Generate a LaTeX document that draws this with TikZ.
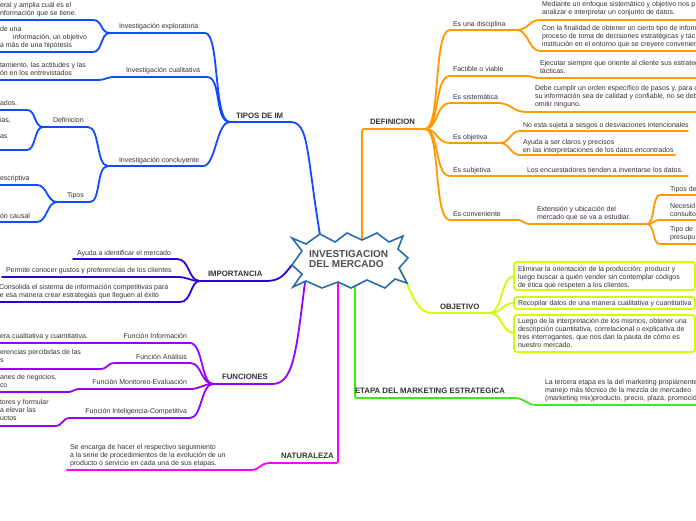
\documentclass[tikz,border=0pt]{standalone}
\usepackage{fontspec}
\setmainfont{Liberation Sans}
\definecolor{tgray}{RGB}{51,51,51}
\definecolor{cgray}{RGB}{77,77,77}
\definecolor{cTip}{RGB}{16,76,255}
\definecolor{cImp}{RGB}{45,0,225}
\definecolor{cFun}{RGB}{150,0,255}
\definecolor{cNat}{RGB}{255,0,255}
\definecolor{cEta}{RGB}{60,235,20}
\definecolor{cObj}{RGB}{205,255,0}
\definecolor{cDef}{RGB}{255,153,0}
\definecolor{cStar}{RGB}{40,110,175}
\begin{document}
\begin{tikzpicture}[x=1pt,y=-1pt,
  conn/.style={line width=1.8pt, line cap=round, line join=round},
  txt/.style={anchor=north west, inner sep=0pt, outer sep=0pt, align=left, yshift=3.4pt,
    font=\fontsize{7}{8}\selectfont, text=tgray, execute at begin node=\strut},
  txtr/.style={txt, anchor=north east, align=right},
  lbl/.style={txt, yshift=0.1pt, font=\fontsize{7.8}{9}\selectfont\bfseries},
  objbox/.style={draw=cObj, line width=1.8pt, rounded corners=3pt, fill=white}]
\useasboundingbox (0,0) rectangle (696,520);
\clip (0,0) rectangle (696,520);
\fill[white] (0,0) rectangle (696,520);

% ---------- hub coordinates ----------
\coordinate (sTip) at (320,235);
\coordinate (sImp) at (292,265);
\coordinate (sFun) at (305,282);
\coordinate (sNat) at (338,283);
\coordinate (sEta) at (355,285);
\coordinate (sObj) at (400,269);
\coordinate (sDef) at (362,240);

% ---------- TIPOS DE IM ----------
\coordinate (tipR) at (290,122); \coordinate (tipL) at (230,122);
\draw[conn,cTip] (sTip) .. controls (306,150) and (309,122) .. (tipR) -- (tipL);
\coordinate (expR) at (205,33); \coordinate (expL) at (110,33);
\coordinate (cuaR) at (207,77); \coordinate (cuaL) at (115,77);
\coordinate (conR) at (203,166); \coordinate (conL) at (108,166);
\draw[conn,cTip] (tipL) .. controls (213,122) and (220,33) .. (expR) -- (expL);
\draw[conn,cTip] (tipL) .. controls (214,122) and (222,77) .. (cuaR) -- (cuaL);
\draw[conn,cTip] (tipL) .. controls (216,122) and (216,166) .. (conR) -- (conL);
\coordinate (e1) at (-2,20); \coordinate (e2) at (-2,52);
\draw[conn,cTip] (expL) .. controls (100,33) and (103,20) .. (93,20) -- (e1);
\draw[conn,cTip] (expL) .. controls (100,33) and (103,52) .. (93,52) -- (e2);
\coordinate (c1) at (-2,80);
\draw[conn,cTip] (cuaL) .. controls (105,77) and (107,80) .. (97,80) -- (c1);
\coordinate (defR) at (88,127); \coordinate (defL) at (43,127);
\coordinate (tpR) at (90,202); \coordinate (tpL) at (57,202);
\draw[conn,cTip] (conL) .. controls (96,166) and (100,127) .. (defR) -- (defL);
\draw[conn,cTip] (conL) .. controls (96,166) and (101,202) .. (tpR) -- (tpL);
\coordinate (d1) at (-2,110); \coordinate (d2) at (-2,150);
\draw[conn,cTip] (defL) .. controls (34,127) and (36,110) .. (27,110) -- (d1);
\draw[conn,cTip] (defL) .. controls (34,127) and (36,150) .. (27,150) -- (d2);
\coordinate (p1) at (-2,185); \coordinate (p2) at (-2,222);
\draw[conn,cTip] (tpL) .. controls (47,202) and (47,185) .. (37,185) -- (p1);
\draw[conn,cTip] (tpL) .. controls (47,202) and (47,222) .. (37,222) -- (p2);

% ---------- IMPORTANCIA ----------
\coordinate (impL) at (200,281);
\draw[conn,cImp] (sImp) .. controls (283,276) and (280,281) .. (265,281) -- (impL);
\coordinate (i1) at (73,259); \coordinate (i2) at (2,277); \coordinate (i3) at (-2,302);
\draw[conn,cImp] (impL) .. controls (188,281) and (190,259) .. (177,259) -- (i1);
\draw[conn,cImp] (impL) .. controls (189,281) and (189,277) .. (177,277) -- (i2);
\draw[conn,cImp] (impL) .. controls (190,281) and (192,302) .. (180,302) -- (i3);

% ---------- FUNCIONES ----------
\coordinate (funL) at (213,384);
\draw[conn,cFun] (sFun) .. controls (296,355) and (293,384) .. (272,384) -- (funL);
\coordinate (f1) at (-2,343); \coordinate (f2) at (-2,369);
\coordinate (f3) at (-2,392); \coordinate (f4) at (-2,426);
\draw[conn,cFun] (funL) .. controls (201,384) and (203,343) .. (190,343) -- (f1);
\draw[conn,cFun] (funL) .. controls (201,384) and (202,363) .. (190,363) -- (115,363)
  .. controls (107,363) and (108,369) .. (100,369) -- (f2);
\draw[conn,cFun] (funL) .. controls (202,384) and (201,389) .. (190,389) -- (80,389)
  .. controls (73,389) and (74,392) .. (67,392) -- (f3);
\draw[conn,cFun] (funL) .. controls (201,384) and (202,418) .. (190,418) -- (70,418)
  .. controls (62,418) and (63,426) .. (55,426) -- (f4);

% ---------- NATURALEZA ----------
\coordinate (natE) at (67,470);
\draw[conn,cNat] (sNat) -- (338,459) .. controls (338,463) .. (334,463) -- (270,463)
  .. controls (259,463) and (261,470) .. (250,470) -- (natE);

% ---------- ETAPA ----------
\coordinate (etaE) at (698,405);
\draw[conn,cEta] (sEta) -- (355,395) .. controls (355,398) .. (358,398) -- (514,398)
  .. controls (526,398) and (525,405) .. (537,405) -- (etaE);

% ---------- OBJETIVO ----------
\coordinate (objR) at (490,313);
\draw[conn,cObj] (sObj) .. controls (412,292) and (416,313) .. (432,313) -- (objR);
\draw[conn,cObj] (objR) .. controls (502,313) and (501,276) .. (514,276);
\draw[conn,cObj] (objR) .. controls (502,313) and (502,303) .. (514,303);
\draw[conn,cObj] (objR) .. controls (502,313) and (502,333) .. (514,333);
\draw[objbox] (514,262) rectangle (695,290);
\draw[objbox] (514,297) rectangle (695,309);
\draw[objbox] (514,315) rectangle (695,352);

% ---------- DEFINICION ----------
\coordinate (defH) at (425,129);
\draw[conn,cDef] (sDef) -- (362,134) .. controls (362,129) .. (367,129) -- (defH);
\coordinate (dis) at (517,30);
\draw[conn,cDef] (defH) .. controls (441,129) and (433,30) .. (450,30) -- (dis);
\draw[conn,cDef] (dis) .. controls (528,30) and (529,20) .. (540,20) -- (698,20);
\draw[conn,cDef] (dis) .. controls (528,30) and (529,51) .. (540,51) -- (698,51);
\draw[conn,cDef] (defH) .. controls (440,129) and (434,76) .. (450,76) -- (527,76)
  .. controls (532,76) and (533,78) .. (538,78) -- (698,78);
\draw[conn,cDef] (defH) .. controls (438,129) and (436,103) .. (450,103) -- (497,103)
  .. controls (512,103) and (512,112) .. (527,112) -- (698,112);
\coordinate (obh) at (500,143);
\draw[conn,cDef] (defH) .. controls (438,129) and (436,143) .. (450,143) -- (obh);
\draw[conn,cDef] (obh) .. controls (510,143) and (510,131) .. (520,131) -- (688,131);
\draw[conn,cDef] (obh) .. controls (510,143) and (510,155) .. (520,155) -- (675,155);
\draw[conn,cDef] (defH) .. controls (440,129) and (434,176) .. (450,176) -- (688,176);
\coordinate (cvh) at (647,224);
\draw[conn,cDef] (defH) .. controls (441,129) and (433,220) .. (450,220) -- (517,220)
  .. controls (524,220) and (523,224) .. (530,224) -- (cvh);
\draw[conn,cDef] (cvh) .. controls (655,224) and (652,195) .. (660,195) -- (698,195);
\draw[conn,cDef] (cvh) .. controls (654,224) and (653,220) .. (660,220) -- (698,220);
\draw[conn,cDef] (cvh) .. controls (655,224) and (652,244) .. (660,244) -- (698,244);

% ---------- central star ----------
\draw[cStar, line width=1.6pt, line join=miter, fill=white]
 (292,238) -- (306,244) -- (320,234) -- (335,242) -- (347,233) -- (362,240) -- (377,233)
 -- (389,242) -- (403,236) -- (398,249) -- (408,258) -- (399,268) -- (407,283) -- (395,279)
 -- (385,288) -- (367,280) -- (351,288) -- (338,282) -- (322,288) -- (306,281) -- (293,287)
 -- (302,274) -- (292,265) -- (302,251) -- cycle;
\node[anchor=north west, inner sep=0pt, align=left, text=cgray,
  font=\fontsize{10}{10.5}\selectfont\bfseries, execute at begin node=\strut]
  (center) at (309,250) {INVESTIGACION\\DEL MERCADO};

% ---------- texts: TIPOS DE IM ----------
\node[lbl] (lTip) at (236,116) {TIPOS DE IM};
\node[txt] (lExp) at (119,26) {Investigación exploratoria};
\node[txt] (lCua) at (126,70.5) {Investigación cualitativa};
\node[txt] (lCon) at (119,160.5) {Investigación concluyente};
\node[txt] (lDefi) at (53,120) {Definicion};
\node[txt] (lTipos) at (67,195) {Tipos};
\node[txt] (t1) at (0,6) {eral y amplia cuál es el\\nformación que se tiene.};
\node[txt] (t2) at (0,30) {de una\\\hspace*{13pt}información, un objetivo\\a más de una hipótesis};
\node[txt] (t3) at (0,66) {tamiento, las actitudes y las\\ón en los entrevistados};
\node[txt] (t4) at (0,103) {ados.};
\node[txt] (t5) at (0,121) {ias,\\[8pt]as};
\node[txt] (t6) at (0,178) {escriptiva};
\node[txt] (t7) at (0,216) {ón causal};

% ---------- texts: IMPORTANCIA ----------
\node[lbl] (lImp) at (208,274) {IMPORTANCIA};
\node[txt] (i1t) at (77,253) {Ayuda a identificar el mercado};
\node[txt] (i2t) at (6,270) {Permite conocer gustos y preferencias de los clientes};
\node[txt] (i3t) at (-1,288) {Consolida el sistema de información competitivas para\\\hspace*{1pt}e esa manera crear estrategias que lleguen al éxito};

% ---------- texts: FUNCIONES ----------
\node[lbl] (lFun) at (222,377) {FUNCIONES};
\node[txtr] (f1l) at (187,336) {Función Información};
\node[txtr] (f2l) at (187,357) {Función Análisis};
\node[txtr] (f3l) at (187,382) {Función Monitoreo-Evaluación};
\node[txtr] (f4l) at (187,411) {Función Inteligencia-Competitiva};
\node[txt] (f1t) at (0,336) {era cualitativa y cuantitativa.};
\node[txt] (f2t) at (0,353) {erencias percibidas de las\\s};
\node[txt] (f3t) at (0,378) {anes de negocios,\\co};
\node[txt] (f4t) at (0,403) {tores y formular\\a elevar las\\uctos};

% ---------- texts: NATURALEZA ----------
\node[lbl] (lNat) at (281,456) {NATURALEZA};
\node[txt] (natT) at (70,447.5) {Se encarga de hacer el respectivo seguimiento\\a la serie de procedimientos de la evolución de un\\producto o servicio en cada una de sus etapas.};

% ---------- texts: ETAPA ----------
\node[lbl] (lEta) at (355,391) {ETAPA DEL MARKETING ESTRATEGICA};
\node[txt] (etaT) at (545,383) {La tercera etapa es la del marketing propiamente\\manejo más técnico de la mezcla de mercadeo\\(marketing mix)producto, precio, plaza, promoció};

% ---------- texts: OBJETIVO ----------
\node[lbl] (lObj) at (440,307) {OBJETIVO};
\node[txt] (o1) at (518,269.5) {Eliminar la orientación de la producción: producir y\\luego buscar a quién vender sin contemplar códigos\\de ética que respeten a los clientes.};
\node[txt] (o2) at (518,303) {Recopilar datos de una manera cualitativa y cuantitativa};
\node[txt] (o3) at (518,322) {Luego de la interpretación de los mismos, obtener una\\descripción cuantitativa, correlacional o explicativa de\\tres interrogantes, que nos dan la pauta de cómo es\\nuestro mercado.};

% ---------- texts: DEFINICION ----------
\node[lbl] (lDef) at (370,122) {DEFINICION};
\node[txt] (dl1) at (453,24) {Es una disciplina};
\node[txt] (dl2) at (453,69) {Factible o viable};
\node[txt] (dl3) at (453,97) {Es sistemática};
\node[txt] (dl4) at (453,137) {Es objetiva};
\node[txt] (dl5) at (453,170) {Es subjetiva};
\node[txt] (dl6) at (453,214) {Es conveniente};
\node[txt] (dt1) at (542,5) {Mediante un enfoque sistemático y objetivo nos p\\analizar e interpretar un conjunto de datos.};
\node[txt] (dt2) at (542,29) {Con la finalidad de obtener un cierto tipo de inform\\proceso de toma de decisiones estratégicas y tác\\institución en el entorno que se creyere convenien};
\node[txt] (dt3) at (540,64) {Ejecutar siempre que oriente al cliente sus estrateg\\tácticas.};
\node[txt] (dt4) at (535,89) {Debe cumplir un orden específico de pasos y, para c\\su información sea de calidad y confiable, no se deb\\omitir ninguno.};
\node[txt] (dt5) at (523,125) {No esta sujeta a sesgos o desviaciones intencionales};
\node[txt] (dt6) at (523,142.5) {Ayuda a ser claros y precisos\\en las interpretaciones de los datos encontrados};
\node[txt] (dt7) at (527,170) {Los encuestadores tienden a inventarse los datos.};
\node[txt] (dt8) at (537,210) {Extensión y ubicación del\\mercado que se va a estudiar.};
\node[txt] (dg1) at (670,189) {Tipos de};
\node[txt] (dg2) at (670,207) {Necesid\\consulto};
\node[txt] (dg3) at (670,230) {Tipo de\\presupu};
\end{tikzpicture}
\end{document}
